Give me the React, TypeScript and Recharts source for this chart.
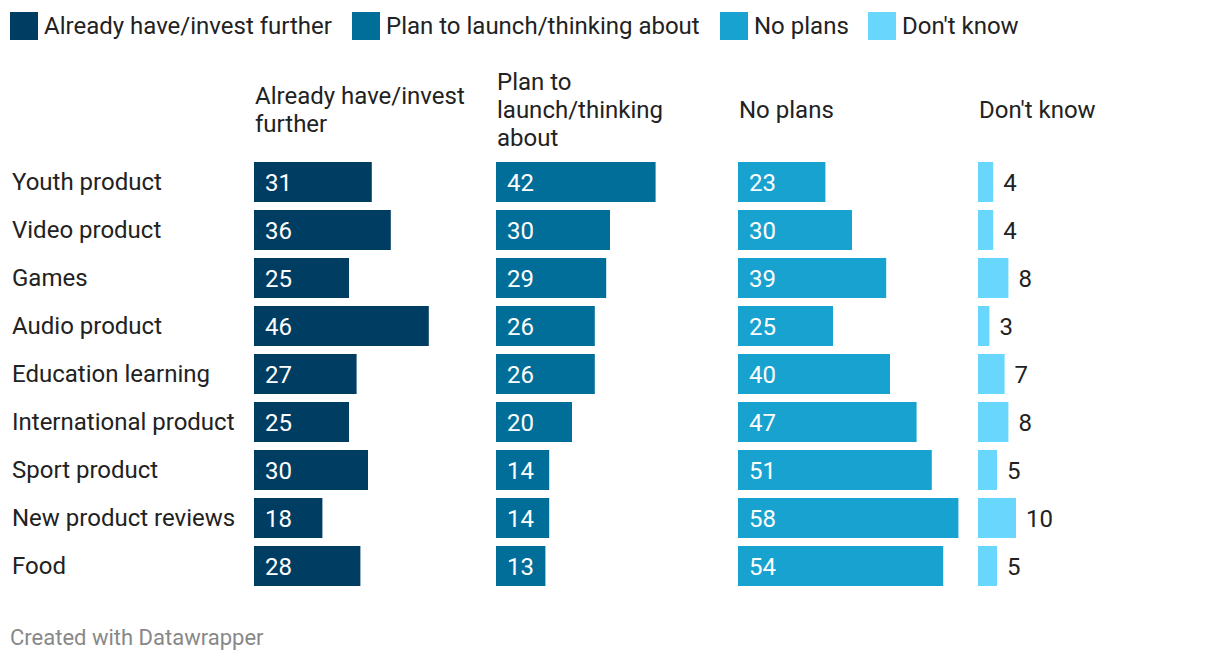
import React from 'react';
import { BarChart, Bar, XAxis, YAxis, LabelList } from 'recharts';

const categories = [
  'Youth product',
  'Video product',
  'Games',
  'Audio product',
  'Education learning',
  'International product',
  'Sport product',
  'New product reviews',
  'Food',
];
const alreadyHave = [31, 36, 25, 46, 27, 25, 30, 18, 28];
const planToLaunch = [42, 30, 29, 26, 26, 20, 14, 14, 13];
const noPlans = [23, 30, 39, 25, 40, 47, 51, 58, 54];
const dontKnow = [4, 4, 8, 3, 7, 8, 5, 10, 5];

const seriesNames = ['Already have/invest further', 'Plan to launch/thinking about', 'No plans', "Don't know"];
const headerLines = [
  ['Already have/invest', 'further'],
  ['Plan to', 'launch/thinking', 'about'],
  ['No plans'],
  ["Don't know"],
];
const colors = ['#003d63', '#006e98', '#18a2cf', '#69d7fd'];
const keys = ['a', 'p', 'n', 'd'];

const rows = categories.map((name, i) => ({
  name,
  a: alreadyHave[i],
  p: planToLaunch[i],
  n: noPlans[i],
  d: dontKnow[i],
}));

const FONT = 'Roboto, "Noto Sans", sans-serif';
const TEXT = '#222';
const FS = 24;
const panelLeft = [254, 496, 738, 978];
const CHART_TOP = 158;
const CHART_H = 432;
const PLOT_W = 228;

const CategoryTick = (props: any) => {
  const { y, payload } = props;
  return (
    <text x={12} y={y} dy={8} textAnchor="start" fontSize={FS} fill={TEXT} fontFamily={FONT}>
      {payload.value}
    </text>
  );
};

function Panel({ idx }: { idx: number }) {
  const first = idx === 0;
  const outside = idx === 3;
  const width = (first ? 254 : 0) + PLOT_W + 14;
  return (
    <div style={{ position: 'absolute', top: CHART_TOP, left: first ? 0 : panelLeft[idx] }}>
      <BarChart
        width={width}
        height={CHART_H}
        data={rows}
        layout="vertical"
        margin={{ top: 0, right: 14, bottom: 0, left: 0 }}
        barSize={40}
      >
        <XAxis type="number" domain={[0, 60]} hide />
        <YAxis
          type="category"
          dataKey="name"
          hide={!first}
          width={first ? 254 : 0}
          tick={<CategoryTick />}
          tickLine={false}
          axisLine={false}
          interval={0}
        />
        <Bar dataKey={keys[idx]} fill={colors[idx]} isAnimationActive={false}>
          <LabelList
            dataKey={keys[idx]}
            position={outside ? 'right' : 'insideLeft'}
            offset={outside ? 10 : 11}
            fill={outside ? TEXT : '#fff'}
            fontSize={FS}
            fontFamily={FONT}
          />
        </Bar>
      </BarChart>
    </div>
  );
}

export default function App() {
  const legendX = [10, 352, 720, 868];
  return (
    <div
      style={{
        position: 'absolute',
        top: 0,
        left: 0,
        width: 1220,
        height: 664,
        background: '#fff',
        fontFamily: FONT,
        color: TEXT,
        overflow: 'hidden',
      }}
    >
      {/* legend */}
      {seriesNames.map((s, i) => (
        <div
          key={s}
          style={{ position: 'absolute', top: 12, left: legendX[i], display: 'flex', alignItems: 'center', height: 28 }}
        >
          <div style={{ width: 28, height: 28, background: colors[i], marginRight: 6 }} />
          <span style={{ fontSize: FS, whiteSpace: 'nowrap' }}>{s}</span>
        </div>
      ))}

      {/* column headers */}
      {headerLines.map((lines, i) => (
        <div
          key={i}
          style={{
            position: 'absolute',
            left: panelLeft[i] + 1,
            top: 68,
            height: 84,
            width: 230,
            display: 'flex',
            flexDirection: 'column',
            justifyContent: 'center',
            fontSize: FS,
            lineHeight: '28px',
          }}
        >
          {lines.map((l) => (
            <div key={l} style={{ whiteSpace: 'nowrap' }}>{l}</div>
          ))}
        </div>
      ))}

      {[0, 1, 2, 3].map((i) => (
        <Panel key={i} idx={i} />
      ))}

      <div style={{ position: 'absolute', left: 10, top: 625, fontSize: 22, color: '#888' }}>
        Created with Datawrapper
      </div>
    </div>
  );
}
